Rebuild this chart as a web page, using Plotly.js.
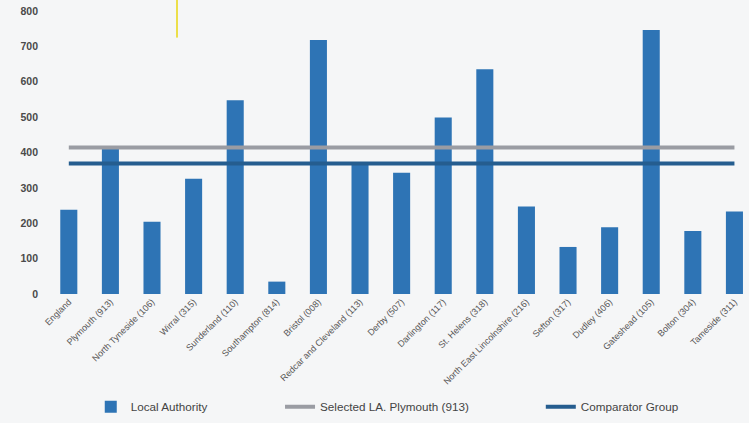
<!DOCTYPE html>
<html>
<head>
<meta charset="utf-8">
<script src="https://cdn.plot.ly/plotly-3.0.1.min.js"></script>
<style>
  html, body { margin: 0; padding: 0; background: #f5f6f7; }
  #chart { width: 749px; height: 423px; }
</style>
</head>
<body>
<div id="chart"></div>
<script>
// Local authorities compared against Plymouth
const categories = [
  "England", "Plymouth (913)", "North Tyneside (106)", "Wirral (315)",
  "Sunderland (110)", "Southampton (814)", "Bristol (008)",
  "Redcar and Cleveland (113)", "Derby (507)", "Darlington (117)",
  "St. Helens (318)", "North East Lincolnshire (216)", "Sefton (317)",
  "Dudley (406)", "Gateshead (105)", "Bolton (304)", "Tameside (311)"
];
const localAuthority = [238, 413, 204, 326, 548, 35, 718, 368, 343, 499, 635, 247, 133, 189, 746, 178, 233];
const selectedLA = 414;      // Selected LA. Plymouth (913)
const comparatorGroup = 369; // Comparator Group average
const yTicks = [0, 100, 200, 300, 400, 500, 600, 700, 800];

const selectedLine = categories.map(() => selectedLA);
const comparatorLine = categories.map(() => comparatorGroup);

const barBlue = "#2e74b5";
const greyLine = "#9a9ca3";
const darkBlue = "#255d8f";

const traces = [
  {
    type: "bar", name: "Local Authority", x: categories, y: localAuthority,
    marker: { color: barBlue }, width: 0.41, legend: "legend"
  },
  {
    type: "scatter", mode: "lines", name: "Selected LA. Plymouth (913)",
    x: categories, y: selectedLine,
    line: { color: greyLine, width: 4 }, legend: "legend2"
  },
  {
    type: "scatter", mode: "lines", name: "Comparator Group",
    x: categories, y: comparatorLine,
    line: { color: darkBlue, width: 4 }, legend: "legend3"
  }
];

const legendFont = { family: "Liberation Sans, Arial, sans-serif", size: 11.7, color: "#444" };
const legendBase = { orientation: "h", yanchor: "middle", y: -0.398, xanchor: "left",
  bgcolor: "rgba(0,0,0,0)", font: legendFont, itemwidth: 30 };

const layout = {
  width: 749, height: 423,
  margin: { l: 48, r: 0, t: 11, b: 129, pad: 0 },
  paper_bgcolor: "#f5f6f7", plot_bgcolor: "#f5f6f7",
  showlegend: true,
  bargap: 0.59,
  xaxis: {
    type: "category", range: [-0.5, 16.35], showgrid: false, zeroline: false,
    showline: false, ticks: "", tickangle: -45,
    tickfont: { family: "Liberation Sans, Arial, sans-serif", size: 9, color: "#555" }
  },
  yaxis: {
    range: [0, 800], tickvals: yTicks, showgrid: false, zeroline: false,
    showline: false, ticks: "", ticklabelstandoff: 9,
    tickfont: { family: "Liberation Sans, Arial, sans-serif", size: 10.5, color: "#4a4a4a", weight: "bold" }
  },
  legend: Object.assign({}, legendBase, { x: 0.061 }),
  legend2: Object.assign({}, legendBase, { x: 0.331 }),
  legend3: Object.assign({}, legendBase, { x: 0.703 }),
  shapes: [
    { type: "line", xref: "paper", yref: "paper",
      x0: 0.184, x1: 0.184, y0: 1.039, y1: 0.906,
      line: { color: "#ecdf4a", width: 2 } }
  ]
};

Plotly.newPlot("chart", traces, layout, { displayModeBar: false, staticPlot: true });
</script>
</body>
</html>
